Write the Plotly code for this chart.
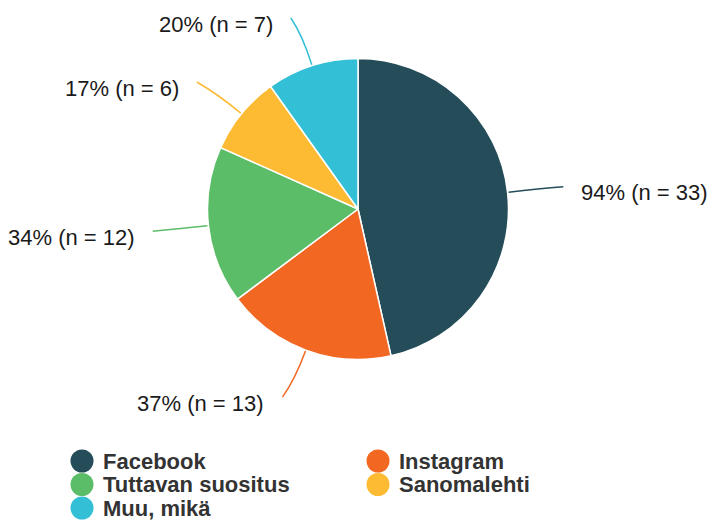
import math
import plotly.graph_objects as go

# ---- data ----
categories = ["Facebook", "Instagram", "Tuttavan suositus", "Sanomalehti", "Muu, mikä"]
counts = [33, 13, 12, 6, 7]
respondents = 35
colors = ["#244C59", "#F26722", "#5CBD68", "#FDBA33", "#33BFD5"]

W, H = 712, 520
CX, CY, R = 358, 209, 150.5
FONT = "Liberation Sans, Arial, sans-serif"

def px(x):
    return x / W

def py(y):
    return 1 - y / H

fig = go.Figure()
fig.add_trace(go.Pie(
    labels=categories, values=counts, sort=False, direction="clockwise",
    rotation=0, textinfo="none", hoverinfo="label+value+percent",
    marker=dict(colors=colors, line=dict(color="white", width=1.5)),
    domain=dict(x=[px(CX - R), px(CX + R)], y=[py(CY + R), py(CY - R)]),
    showlegend=False,
))

shapes = []
annotations = []
total = sum(counts)
cum = 0
for cat, n, col in zip(categories, counts, colors):
    mid = (cum + n / 2) / total * 2 * math.pi
    cum += n
    sx, sy = math.sin(mid), -math.cos(mid)
    x0, y0 = CX + (R + 1) * sx, CY + (R + 1) * sy
    x1, y1 = CX + (R + 32) * sx, CY + (R + 32) * sy
    side = 1 if sx >= 0 else -1
    x2 = x1 + 18 * sx + side * 6
    y2 = y1 + 18 * sy
    path = f"M {px(x0)} {py(y0)} Q {px(x1)} {py(y1)} {px(x2)} {py(y2)}"
    shapes.append(dict(type="path", path=path, xref="paper", yref="paper",
                       line=dict(color=col, width=1.5)))
    pct = round(n / respondents * 100)
    annotations.append(dict(
        text=f"{pct}% (n = {n})", xref="paper", yref="paper",
        x=px(x2 + side * 16), y=py(y2 + 6),
        xanchor="left" if side > 0 else "right", yanchor="middle",
        showarrow=False, font=dict(family=FONT, size=22, color="#1a1a1a"),
    ))

# ---- legend (two columns) ----
col_x = [82, 378]
row_y0, row_dy = 461, 23.5
for i, (cat, col) in enumerate(zip(categories, colors)):
    cx = col_x[i % 2]
    cy = row_y0 + (i // 2) * row_dy
    rr = 11.5
    shapes.append(dict(type="circle", xref="paper", yref="paper",
                       x0=px(cx - rr), x1=px(cx + rr), y0=py(cy + rr), y1=py(cy - rr),
                       fillcolor=col, line=dict(width=0)))
    annotations.append(dict(
        text=f"<b>{cat}</b>", xref="paper", yref="paper",
        x=px(cx + 19), y=py(cy), xanchor="left", yanchor="middle",
        showarrow=False, font=dict(family=FONT, size=22, color="#333333"),
    ))

fig.update_layout(
    width=W, height=H, margin=dict(l=0, r=0, t=0, b=0),
    paper_bgcolor="white", plot_bgcolor="white",
    shapes=shapes, annotations=annotations, showlegend=False,
)
fig.write_html("out.html")
